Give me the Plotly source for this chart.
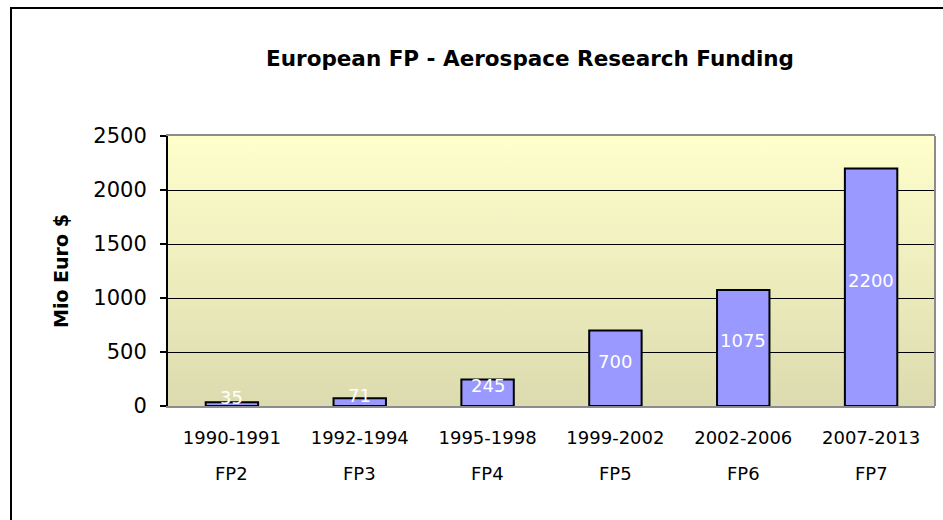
import base64
import plotly.graph_objects as go

# ---- data ----
periods = ["1990-1991", "1992-1994", "1995-1998", "1999-2002", "2002-2006", "2007-2013"]
programmes = ["FP2", "FP3", "FP4", "FP5", "FP6", "FP7"]
funding = [35, 71, 245, 700, 1075, 2200]
y_ticks = [0, 500, 1000, 1500, 2000, 2500]
title_text = "European FP - Aerospace Research Funding"
y_title = "Mio Euro $"

W, H = 943, 520
ML, MR, MT, MB = 168, 8, 136, 114
PW, PH = W - ML - MR, H - MT - MB

def px_x(px):
    return (px - ML) / PW

def px_y(py):
    return (H - MB - py) / PH

FONT = "DejaVu Sans"

# gradient background as an svg image
svg = ('<svg xmlns="http://www.w3.org/2000/svg" width="100" height="100" preserveAspectRatio="none">'
       '<defs><linearGradient id="g" x1="0" y1="0" x2="0" y2="1">'
       '<stop offset="0" stop-color="#FFFFCC"/><stop offset="1" stop-color="#DCDBAF"/>'
       '</linearGradient></defs><rect width="100" height="100" fill="url(#g)"/></svg>')
svg_uri = "data:image/svg+xml;base64," + base64.b64encode(svg.encode()).decode()

fig = go.Figure()
fig.add_trace(go.Bar(
    x=periods, y=funding, width=0.41,
    marker=dict(color="#9999FF", line=dict(color="black", width=2)),
    hoverinfo="skip",
))

annotations = []
# data labels
for p, v in zip(periods, funding):
    annotations.append(dict(x=p, y=v / 2, xref="x", yref="y", text=str(v), showarrow=False,
                            yshift=7, font=dict(family=FONT, size=18, color="white")))
# second row of category labels
for p, f in zip(periods, programmes):
    annotations.append(dict(x=p, y=px_y(473), xref="x", yref="paper", text=f, showarrow=False,
                            yanchor="middle", font=dict(family=FONT, size=18, color="black")))
# y-axis title
annotations.append(dict(x=px_x(61), y=px_y(271), xref="paper", yref="paper", text="<b>" + y_title + "</b>",
                        showarrow=False, textangle=-90, xanchor="center", yanchor="middle",
                        font=dict(family=FONT, size=19, color="black")))

shapes = [
    # outer chart border
    dict(type="rect", xref="paper", yref="paper", x0=px_x(11), x1=px_x(960), y0=px_y(540), y1=px_y(8),
         line=dict(color="black", width=2), layer="above"),
    # right plot-area border
    dict(type="line", xref="paper", yref="paper", x0=1, x1=1, y0=0, y1=1,
         line=dict(color="#8C8C8C", width=2), layer="above"),
]

fig.update_layout(
    width=W, height=H,
    margin=dict(l=ML, r=MR, t=MT, b=MB),
    paper_bgcolor="white", plot_bgcolor="rgba(0,0,0,0)",
    showlegend=False,
    title=dict(text="<b>" + title_text + "</b>", x=530 / W, y=1 - 58 / H, xref="container", yref="container",
               xanchor="center", yanchor="middle", font=dict(family=FONT, size=21.5, color="black")),
    images=[dict(source=svg_uri, xref="paper", yref="paper", x=0, y=1, sizex=1, sizey=1,
                 sizing="stretch", xanchor="left", yanchor="top", layer="below")],
    annotations=annotations,
    shapes=shapes,
    xaxis=dict(type="category", showgrid=False, showline=True, linecolor="#8C8C8C", linewidth=2, mirror=True,
               ticks="", tickfont=dict(family=FONT, size=18, color="black"), ticklabelstandoff=14,
               range=[-0.5, len(periods) - 0.5]),
    yaxis=dict(range=[0, 2500], tickvals=y_ticks, showgrid=True, gridcolor="black", gridwidth=1,
               zeroline=False, showline=True, linecolor="black", linewidth=2,
               ticks="outside", ticklen=6, tickcolor="black", tickwidth=1.5,
               tickfont=dict(family=FONT, size=21, color="black"), ticklabelstandoff=9),
    bargap=0.59,
)

fig.write_html("out.html", config={"displayModeBar": False},
               post_script="document.body.style.margin='0';document.body.style.overflow='hidden';")
